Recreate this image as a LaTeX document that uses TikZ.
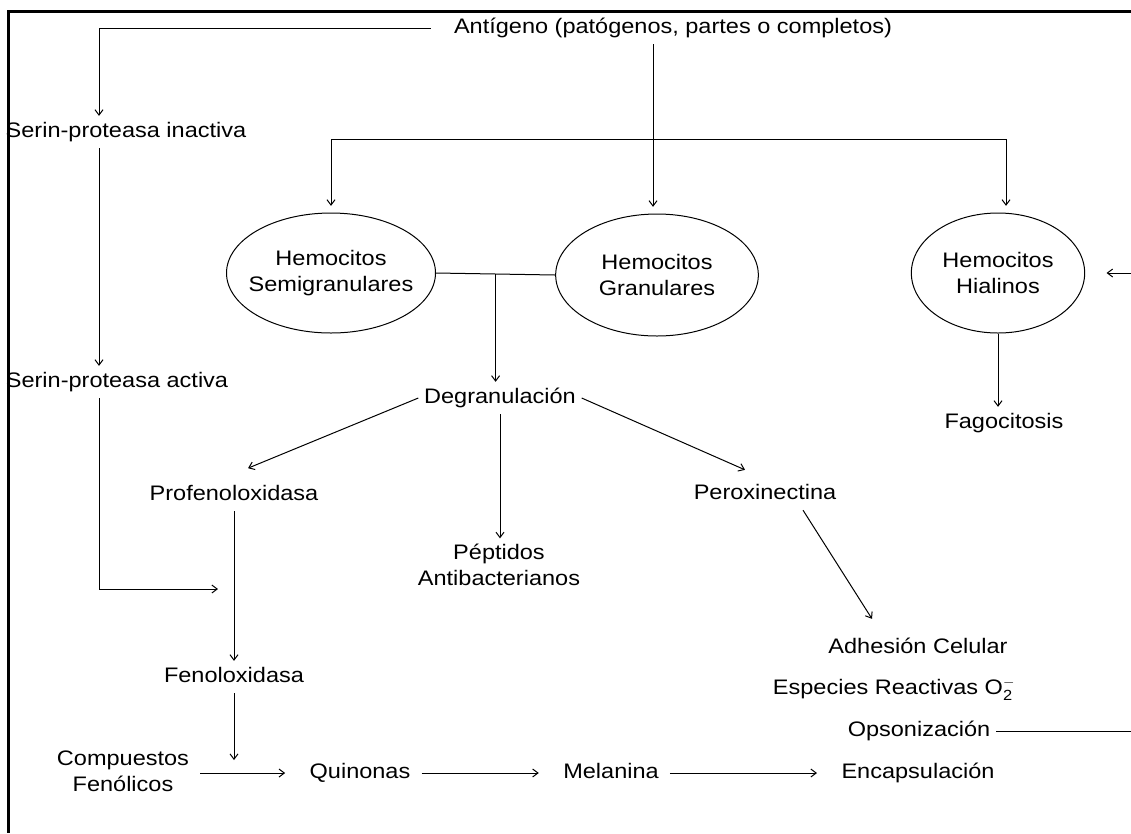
\documentclass[tikz,border=0pt]{standalone}
\usepackage{fontspec}
\setmainfont{Liberation Sans}[FakeStretch=1.12]
\usepackage{tikz}
\usetikzlibrary{positioning, arrows.meta, shapes.geometric}

\newcommand{\dfont}{\fontsize{15.75}{19.5}\selectfont}

\begin{document}
\begin{tikzpicture}[
      x=0.75pt, y=-0.75pt, line width=0.75pt,
      txt/.style={inner sep=4pt, text height=12pt, text depth=3.5pt, font=\dfont},
      txt2/.style={inner sep=4pt, align=center, font=\dfont},
      cell/.style={draw, ellipse, inner sep=0pt},
      lbl/.style={align=center, font=\dfont},
      arr/.style={-{Straight Barb[length=4pt,width=6pt]}},
      flow/.style={arr, shorten <=4pt, shorten >=14pt},
      frame/.style={line width=2.5pt}
    ]
    \useasboundingbox (0,0) rectangle (1131,833);
    \draw[frame] (1131,11.5) -| (8.5,833);

    % Nodes
    \node[txt] (ant) at (673,28) {Antígeno (patógenos, partes o completos)};
    \node[txt] (spi) at (126,132) {Serin-proteasa inactiva};
    \node[txt] (spa) at (117,382) {Serin-proteasa activa};

    \node[cell, minimum width=156.75pt, minimum height=90pt,
          label={[lbl]center:Hemocitos\\Semigranulares}] (semi) at (331,273) {};
    \node[cell, minimum width=152pt, minimum height=91.5pt,
          label={[lbl]center:Hemocitos\\Granulares}] (gran) at (657,275) {};
    \node[cell, minimum width=130pt, minimum height=90pt,
          label={[lbl]center:Hemocitos\\Hialinos}] (hial) at (998,273) {};

    \node[txt] (degr) at (500,398) {Degranulación};
    \node[txt] (fago) at (1004,423) {Fagocitosis};
    \node[txt] (profeno) at (234,495) {Profenoloxidasa};
    \node[txt2] (pept) at (499,565) {Péptidos\\Antibacterianos};
    \node[txt] (perox) at (765,494) {Peroxinectina};

    \node[txt] (adhes) at (918,648) {Adhesión Celular};
    \node[txt] (espec) at (894,689) {Especies Reactivas O$_{\mathrm{2}}^{\mathrm{-}}$};
    \node[txt] (opso) at (919,731) {Opsonización};

    \node[txt] (fenox) at (234,677) {Fenoloxidasa};
    \node[txt2] (comp) at (123,771) {Compuestos\\Fenólicos};
    \node[txt] (quin) at (360,773) {Quinonas};
    \node[txt] (mela) at (611,773) {Melanina};
    \node[txt] (encap) at (918,773) {Encapsulación};

    \coordinate (fork) at (653,139);
    \coordinate (pfjoin) at (218,589);
    \coordinate (react) at (234,760);
    \coordinate (ein) at (1131,273);
    \coordinate (eout) at (1131,728);

    % Edges
    \draw[arr] ([xshift=-13pt]ant.west) -| ([xshift=-20.25pt]spi.north);
    \draw[arr] ([xshift=-20.25pt]spi.south) -- ([xshift=-13.5pt]spa.north);
    \draw[arr] ([xshift=-13.5pt]spa.south) |- (pfjoin);

    \draw[arr, shorten >=5pt] ([xshift=-15pt]ant.south) -- ([xshift=-3pt]gran.north);
    \draw[arr, shorten >=5pt] (fork) -| (semi.north);
    \draw[arr, shorten >=5pt] (fork) -| ([xshift=6pt]hial.north);

    \draw (semi.east) -- coordinate[midway] (mid) (gran.west);
    \draw[arr] (mid) -- (mid |- degr.north);
    \draw[arr] (degr.west) -- ([xshift=10.5pt,yshift=8pt]profeno.north);
    \draw[arr] (degr.east) -- ([xshift=-15pt,yshift=6pt]perox.north);
    \draw[arr] (degr.south) -- (degr.south |- pept.north);

    \draw[arr] (hial.south) -- (hial.south |- fago.north);
    \draw[arr, shorten >=16pt] (ein) -- (hial.east);
    \draw (opso.east) -- (opso.east -| eout);
    \draw[arr] ([xshift=28.5pt]perox.south) -- ([xshift=-34.5pt,yshift=9.75pt]adhes.north);

    \draw[arr] (profeno) -- (fenox);
    \draw[arr] (fenox) -- (react);
    \draw[flow] (comp.east |- quin.west) -- (quin.west);
    \draw[flow] (quin) -- (mela);
    \draw[flow] (mela) -- (encap);
  \end{tikzpicture}
\end{document}
